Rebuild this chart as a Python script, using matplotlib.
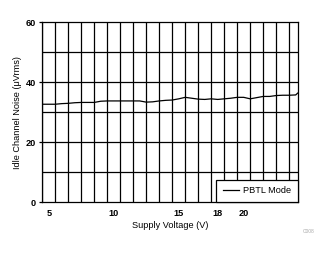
import matplotlib
matplotlib.use("Agg")
import matplotlib.pyplot as plt
from matplotlib.ticker import FixedLocator

plt.rcParams['font.family'] = ['Liberation Sans', 'DejaVu Sans']

voltage = [4.5, 5, 5.5, 6, 6.5, 7, 7.5, 8, 8.5, 9, 9.5, 10, 10.5, 11, 11.5, 12,
           12.5, 13, 13.5, 14, 14.5, 15, 15.5, 16, 16.5, 17, 17.5, 18, 18.5, 19,
           19.5, 20, 20.5, 21, 21.5, 22, 22.5, 23, 23.5, 24, 24.15]
noise = [32.7, 32.7, 32.7, 32.9, 33.0, 33.2, 33.3, 33.3, 33.3, 33.7, 33.8, 33.8,
         33.8, 33.8, 33.8, 33.8, 33.4, 33.5, 33.8, 34.0, 34.1, 34.5, 35.0, 34.7,
         34.4, 34.3, 34.5, 34.3, 34.5, 34.7, 35.0, 35.0, 34.5, 34.9, 35.3, 35.3,
         35.6, 35.7, 35.7, 35.8, 36.4]
x_tick_values = [5, 10, 15, 18, 20]
y_tick_values = [0, 20, 40, 60]
series_label = "PBTL Mode"

fig = plt.figure(figsize=(3.30, 2.54), dpi=100)
ax = fig.add_axes([0.128, 0.2035, 0.774, 0.7085])

ax.plot(voltage, noise, color='black', lw=0.9, label=series_label)

ax.set_xlim(4.5, 24.15)
ax.set_ylim(0, 60)

ax.xaxis.set_major_locator(FixedLocator(x_tick_values))
ax.yaxis.set_major_locator(FixedLocator(y_tick_values))

for xv in [4.5 + k for k in range(20)]:
    ax.axvline(xv, color='black', lw=0.9, zorder=0.5)
for yv in [10, 20, 30, 40, 50]:
    ax.axhline(yv, color='black', lw=0.9, zorder=0.5)

ax.tick_params(axis='x', which='both', length=0, pad=5, labelsize=6.6)
ax.tick_params(axis='y', which='major', length=2, width=0.9, pad=2.5, labelsize=6.6)
for lab in ax.get_xticklabels() + ax.get_yticklabels():
    lab.set_fontweight('bold')

for s in ax.spines.values():
    s.set_linewidth(0.9)
    s.set_color('black')

ax.set_xlabel("Supply Voltage (V)", fontsize=6.6, labelpad=2)
ax.set_ylabel("Idle Channel Noise (\u03bcVrms)", fontsize=6.6, labelpad=3)

leg = ax.legend(loc='lower right', fontsize=6.6, frameon=True, fancybox=False,
                edgecolor='black', framealpha=1, borderaxespad=0,
                handlelength=1.8, handletextpad=0.35, borderpad=0.75)
leg.get_frame().set_linewidth(0.9)
leg.set_zorder(5)

fig.text(0.952, 0.088, "C008", fontsize=3.5, color='#aaaaaa', ha='right', va='center')

fig.savefig("out.png", dpi=100)
